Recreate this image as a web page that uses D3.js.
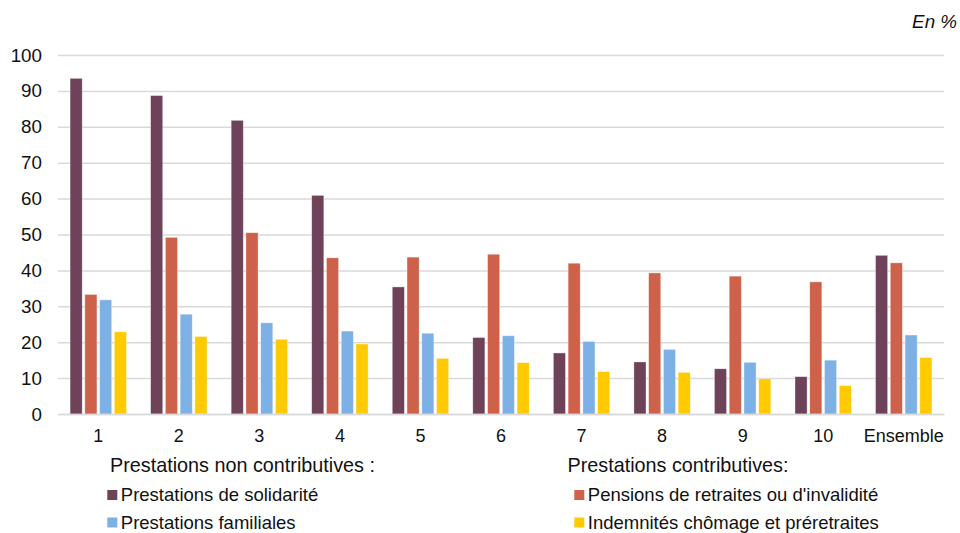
<!DOCTYPE html>
<html><head><meta charset="utf-8">
<script src="https://cdn.jsdelivr.net/npm/d3@7"></script>
<style>body{margin:0;background:#fff}svg{display:block;font-family:"Liberation Sans",Arial,sans-serif}</style>
</head><body><svg id="c" width="960" height="533"></svg>
<script>
const categories = ["1","2","3","4","5","6","7","8","9","10","Ensemble"];
const seriesNames = ["Prestations de solidarité","Pensions de retraites ou d'invalidité","Prestations familiales","Indemnités chômage et préretraites"];
const solidarite = [93.5,88.7,81.8,60.9,35.4,21.3,17.0,14.5,12.6,10.4,44.2];
const pensions   = [33.3,49.2,50.5,43.5,43.7,44.5,42.0,39.3,38.4,36.8,42.1];
const familiales = [31.8,27.8,25.4,23.1,22.5,21.8,20.2,18.0,14.4,15.0,22.0];
const chomage    = [22.9,21.6,20.8,19.5,15.5,14.3,11.8,11.6,9.8,7.9,15.7];
const yTicks = [0,10,20,30,40,50,60,70,80,90,100];
const colors = ["#6E4258","#CD614A","#7DB1E6","#FFCA00"];
const seriesValues = [solidarite,pensions,familiales,chomage];

(function(){
const svg = d3.select("#c");
const pl=58,pr=944,pt=55,pb=414;
const txt="#111";
const x = d3.scaleBand().domain(categories).range([pl,pr]).paddingInner(0.3).paddingOuter(0.15);
const x1 = d3.scaleBand().domain(d3.range(4)).range([0,x.bandwidth()]).paddingInner(0.18);
const y = d3.scaleLinear().domain([0,100]).range([pb,pt]);

const yAxis = d3.axisLeft(y).tickValues(yTicks).tickSize(-(pr-pl)).tickPadding(16);
const ga = svg.append("g").attr("transform",`translate(${pl},0)`).call(yAxis);
ga.select(".domain").remove();
ga.selectAll(".tick line").attr("stroke","#D9D9D9").attr("stroke-width",1.5);
ga.selectAll(".tick text").attr("font-size",18.8).attr("fill",txt).attr("font-family","Liberation Sans, Arial, sans-serif");

const groups = svg.append("g").selectAll("g").data(categories).join("g")
  .attr("transform",d=>`translate(${x(d)},0)`);
groups.selectAll("rect").data((d,i)=>seriesValues.map((s,k)=>({k,v:s[i]}))).join("rect")
  .attr("x",d=>x1(d.k)).attr("width",x1.bandwidth())
  .attr("y",d=>y(d.v)).attr("height",d=>y(0)-y(d.v))
  .attr("fill",d=>colors[d.k]).attr("stroke","rgba(255,255,255,0.5)").attr("stroke-width",0.7);

const xAxis = d3.axisBottom(x).tickSize(0).tickPadding(15);
const gx = svg.append("g").attr("transform",`translate(0,${pb})`).call(xAxis);
gx.select(".domain").attr("stroke","#D9D9D9").attr("stroke-width",1.5);
gx.selectAll(".tick text").attr("font-size",18).attr("fill",txt).attr("font-family","Liberation Sans, Arial, sans-serif");

svg.append("text").attr("x",957).attr("y",28.3).attr("text-anchor","end")
  .attr("font-size",18.8).attr("font-style","italic").attr("fill",txt).text("En %");

const lg = svg.append("g").attr("fill",txt);
lg.append("text").attr("x",110).attr("y",472).attr("font-size",19.8).text("Prestations non contributives :");
lg.append("text").attr("x",567.5).attr("y",472).attr("font-size",19.8).text("Prestations contributives:");
const items = [
  {k:0,x:107.3,y:501},{k:2,x:107.3,y:528.5},{k:1,x:574.3,y:501},{k:3,x:574.3,y:528.5}
];
items.forEach(it=>{
  lg.append("rect").attr("x",it.x).attr("y",it.y-11).attr("width",10).attr("height",10).attr("fill",colors[it.k]);
  lg.append("text").attr("x",it.x+13.5).attr("y",it.y).attr("font-size",18.5).text(seriesNames[it.k]);
});
})();
</script></body></html>
